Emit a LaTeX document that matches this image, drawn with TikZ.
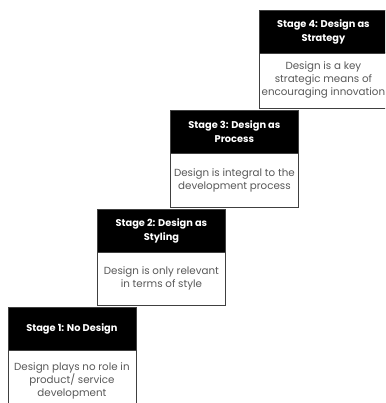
\documentclass[tikz,border=0pt]{standalone}
\usepackage{fontspec}
\setmainfont{Poppins}
\begin{document}
\begin{tikzpicture}[x=1pt,y=-1pt]
\tikzset{ head/.style={fill=black, draw=black!75, text=white, anchor=north west,
            font=\bfseries\fontsize{9.8}{14}\selectfont, align=center,
            minimum width=128pt, minimum height=43pt, inner sep=0pt, line width=0.8pt},
          body/.style={fill=white, draw=black!75, text=black!65, anchor=north west,
            font=\fontsize{10.3}{13}\selectfont, align=center,
            minimum width=128pt, inner sep=0pt, line width=0.8pt} }

\useasboundingbox (0,0) rectangle (385,403);
\clip (0,0) rectangle (385,403);

%\draw [lightgray, dashed](0,0) grid (385,403);

\node [body, minimum height=56pt] (B4) at (259,52) {Design is a key\\strategic means of\\encouraging innovation};
\node [head] (H4) at (259,10) {Stage 4: Design as\\Strategy};

\node [body, minimum height=54pt] (B3) at (170,153) {Design is integral to the\\development process};
\node [head] (H3) at (170,110) {Stage 3: Design as\\Process};

\node [body, minimum height=53pt] (B2) at (97,252) {Design is only relevant\\in terms of style};
\node [head] (H2) at (97,209) {Stage 2: Design as\\Styling};

\node [body, minimum height=62pt] (B1) at (7.5,350) {Design plays no role in\\product/ service\\development};
\node [head] (H1) at (7.5,307) {Stage 1: No Design};

\end{tikzpicture}
\end{document}
